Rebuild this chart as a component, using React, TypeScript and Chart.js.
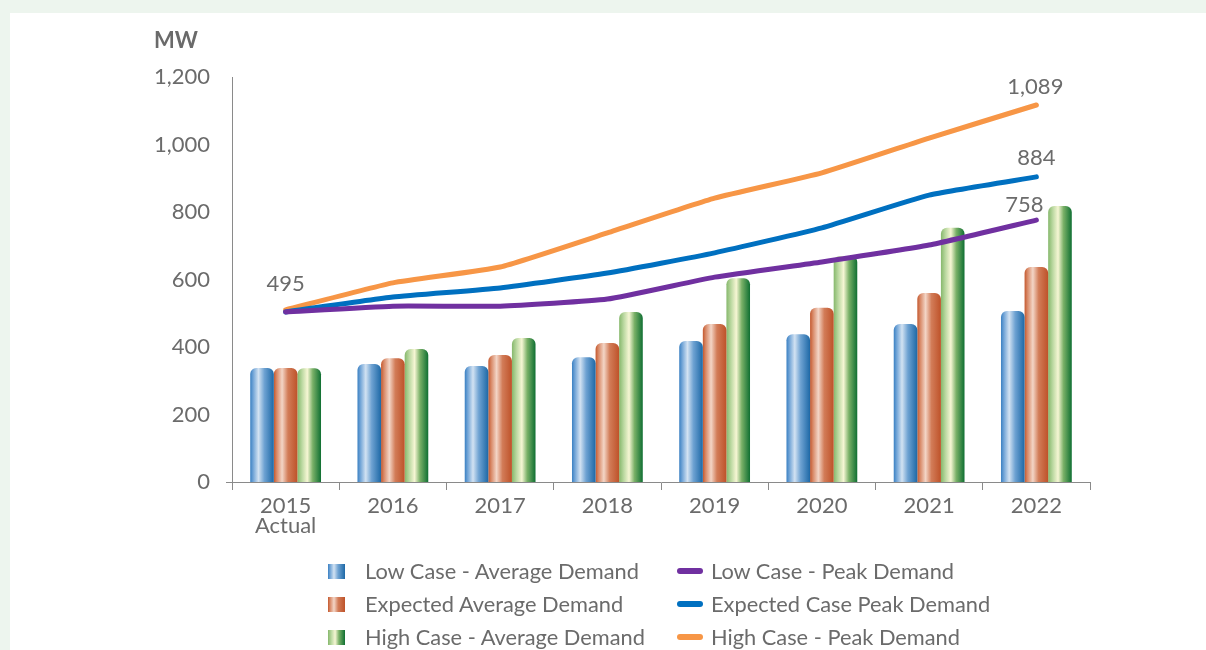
import React, { useEffect, useRef } from 'react';
import { Chart, registerables } from 'chart.js';
Chart.register(...registerables);

const categories: (string | string[])[] = [['2015', 'Actual'], '2016', '2017', '2018', '2019', '2020', '2021', '2022'];
const lowAvg = [338, 350, 344, 370, 418, 438, 468, 507];
const expAvg = [338, 367, 376, 412, 468, 516, 560, 637];
const highAvg = [337, 394, 427, 504, 604, 670, 753, 818];
const lowPeak = [504, 521, 521, 542, 607, 652, 702, 776];
const expPeak = [504, 548, 575, 619, 679, 753, 850, 904];
const highPeak = [510, 590, 637, 738, 841, 916, 1019, 1117];
const yMin = 0;
const yMax = 1200;
const yStep = 200;
const startLabel = '495';
const endLabels = ['758', '884', '1,089'];

const seriesNames = [
  'Low Case - Average Demand',
  'Expected Average Demand',
  'High Case - Average Demand',
  'Low Case - Peak Demand',
  'Expected Case Peak Demand',
  'High Case - Peak Demand',
];

const TEXT = '#6b6b6b';
const FONT = 'Lato, "Open Sans", sans-serif';

const gradStops: Record<string, [number, string][]> = {
  blue: [[0, '#3a80c2'], [0.12, '#6fa3d6'], [0.35, '#d2e2f2'], [0.6, '#6ea2d2'], [1, '#1d68a6']],
  orange: [[0, '#c4582e'], [0.12, '#d88866'], [0.35, '#f3d5c6'], [0.6, '#d27c58'], [1, '#be5229']],
  green: [[0, '#86b86c'], [0.2, '#bcd9a2'], [0.42, '#f6f6d4'], [0.65, '#79b067'], [1, '#0f6f32']],
};
const lineColors = { purple: '#7030a0', blue: '#0070c0', orange: '#f79646' };

const cssGrad = (k: string) =>
  `linear-gradient(to right, ${gradStops[k].map(([o, c]) => `${c} ${o * 100}%`).join(', ')})`;

const barGradientPlugin = {
  id: 'barGradient',
  beforeDatasetsDraw(chart: any) {
    const ctx = chart.ctx;
    chart.data.datasets.forEach((ds: any, i: number) => {
      if (ds.type !== 'bar') return;
      const meta = chart.getDatasetMeta(i);
      meta.data.forEach((el: any) => {
        const { x, width } = el.getProps(['x', 'width'], true);
        const g = ctx.createLinearGradient(x - width / 2, 0, x + width / 2, 0);
        gradStops[ds.gradKey].forEach(([o, c]) => g.addColorStop(o, c));
        el.options = Object.assign({}, el.options, { backgroundColor: g });
      });
    });
  },
  afterDraw(chart: any) {
    // short extension of the category axis line to the left of the value axis
    const { ctx, chartArea } = chart;
    ctx.save();
    ctx.strokeStyle = '#8a8a8a';
    ctx.lineWidth = 1;
    ctx.beginPath();
    ctx.moveTo(chartArea.left - 6, Math.round(chartArea.bottom) + 0.5);
    ctx.lineTo(chartArea.left, Math.round(chartArea.bottom) + 0.5);
    ctx.stroke();
    ctx.restore();
  },
};

const labelPlugin = {
  id: 'peakLabels',
  afterDatasetsDraw(chart: any) {
    const ctx = chart.ctx;
    ctx.save();
    ctx.font = `22px ${FONT}`;
    ctx.fillStyle = TEXT;
    ctx.textAlign = 'center';
    ctx.textBaseline = 'middle';
    const hi = chart.getDatasetMeta(2).data;
    ctx.fillText(startLabel, hi[0].x, hi[0].y - 26);
    const offs = [[-12, -15], [0, -19], [-1, -18]];
    [0, 1, 2].forEach((di, k) => {
      const pts = chart.getDatasetMeta(di).data;
      const p = pts[pts.length - 1];
      ctx.fillText(endLabels[k], p.x + offs[k][0], p.y + offs[k][1]);
    });
    ctx.restore();
  },
};

export default function App() {
  const ref = useRef<HTMLCanvasElement>(null);
  useEffect(() => {
    if (!ref.current) return;
    const lineDs = (label: string, data: number[], color: string) => ({
      type: 'line' as const,
      label,
      data,
      borderColor: color,
      backgroundColor: color,
      borderWidth: 5,
      pointRadius: 0,
      tension: 0.15,
      borderCapStyle: 'round',
      borderJoinStyle: 'round',
      order: 0,
    });
    const barDs = (label: string, data: number[], key: string) => ({
      type: 'bar' as const,
      label,
      data,
      gradKey: key,
      backgroundColor: () => gradStops[key][2][1],
      borderRadius: { topLeft: 6, topRight: 6, bottomLeft: 0, bottomRight: 0 },
      borderSkipped: 'bottom',
      barPercentage: 1,
      categoryPercentage: 0.66,
      order: 1,
    });
    const chart = new Chart(ref.current, {
      data: {
        labels: categories,
        datasets: [
          lineDs(seriesNames[3], lowPeak, lineColors.purple),
          lineDs(seriesNames[4], expPeak, lineColors.blue),
          lineDs(seriesNames[5], highPeak, lineColors.orange),
          barDs(seriesNames[0], lowAvg, 'blue'),
          barDs(seriesNames[1], expAvg, 'orange'),
          barDs(seriesNames[2], highAvg, 'green'),
        ] as any,
      },
      options: {
        responsive: false,
        animation: false,
        devicePixelRatio: 1,
        layout: { padding: { left: 142, top: 77, right: 116, bottom: 108 } },
        plugins: { legend: { display: false }, tooltip: { enabled: false } },
        scales: {
          x: {
            type: 'category',
            offset: true,
            grid: { drawOnChartArea: false, drawTicks: true, tickLength: 8, color: '#8a8a8a', offset: true },
            border: { display: true, color: '#8a8a8a', width: 1 },
            ticks: { color: TEXT, font: { family: FONT, size: 22, lineHeight: 0.95 }, padding: 5, maxRotation: 0, autoSkip: false },
            afterFit: (s: any) => { s.height = 60; },
          },
          y: {
            min: yMin,
            max: yMax,
            grid: { display: false, drawTicks: false },
            border: { display: true, color: '#8a8a8a', width: 1 },
            ticks: {
              stepSize: yStep,
              color: TEXT,
              font: { family: FONT, size: 22 },
              padding: 22,
              callback: (v: any) => Number(v).toLocaleString('en-US'),
            },
            afterFit: (s: any) => { s.width = 90; },
          },
        },
      } as any,
      plugins: [barGradientPlugin, labelPlugin],
    });
    return () => chart.destroy();
  }, []);

  const legendRows = [
    [0, 3],
    [1, 4],
    [2, 5],
  ];
  const barKeys = ['blue', 'orange', 'green'];
  const lineCols = [lineColors.purple, lineColors.blue, lineColors.orange];

  return (
    <div style={{ position: 'fixed', left: 0, top: 0, width: 1206, height: 650, background: '#edf5ee', overflow: 'hidden', fontFamily: FONT }}>
      <div style={{ position: 'absolute', left: 10, top: 13, width: 1196, height: 637, background: '#ffffff' }} />
      <canvas ref={ref} width={1206} height={650} style={{ position: 'absolute', left: 0, top: 0, width: 1206, height: 650 }} />
      <div style={{ position: 'absolute', left: 154, top: 26, fontSize: 22, fontWeight: 700, color: '#6a6a6a', lineHeight: '28px' }}>MW</div>
      {legendRows.map(([b, l], r) => (
        <React.Fragment key={r}>
          <div style={{ position: 'absolute', left: 328, top: 564 + r * 33, width: 17, height: 15, background: cssGrad(barKeys[r]) }} />
          <div style={{ position: 'absolute', left: 365, top: 558 + r * 33, fontSize: 21.8, color: TEXT, lineHeight: '26px', whiteSpace: 'nowrap' }}>{seriesNames[b]}</div>
          <div style={{ position: 'absolute', left: 677, top: 568 + r * 33, width: 26, height: 6, borderRadius: 3, background: lineCols[r] }} />
          <div style={{ position: 'absolute', left: 711, top: 558 + r * 33, fontSize: 21.8, color: TEXT, lineHeight: '26px', whiteSpace: 'nowrap' }}>{seriesNames[l]}</div>
        </React.Fragment>
      ))}
    </div>
  );
}
